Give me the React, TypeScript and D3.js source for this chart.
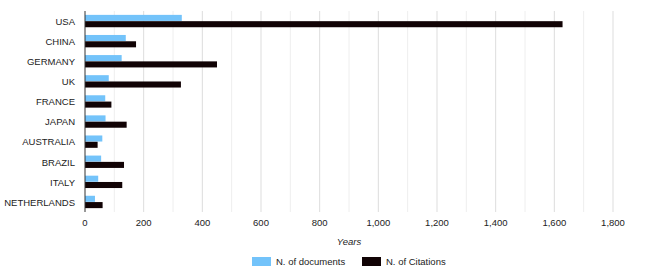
import * as d3 from 'd3'
import React from 'react'

const countries = ['USA', 'CHINA', 'GERMANY', 'UK', 'FRANCE', 'JAPAN', 'AUSTRALIA', 'BRAZIL', 'ITALY', 'NETHERLANDS']
const documents = [330, 139, 125, 81, 69, 70, 59, 55, 45, 34]
const citations = [1628, 174, 450, 327, 90, 142, 43, 133, 127, 60]
const seriesNames = ['N. of documents', 'N. of Citations']
const seriesColors = ['#73c3fa', '#110305']

export default function App() {
  const width = 658,
    height = 276
  const left = 85,
    right = 613,
    top = 11,
    bottom = 212

  const x = d3.scaleLinear().domain([0, 1800]).range([left, right])
  const y = d3.scaleBand().domain(countries).range([top, bottom]).paddingInner(0.36).paddingOuter(0.18)
  const inner = d3.scaleBand().domain(seriesNames).range([0, y.bandwidth()]).padding(0.04)

  const minor = d3.range(100, 1900, 200)
  const major = x.ticks(9)
  const fmt = d3.format(',')
  const font = "'Liberation Sans', Arial, sans-serif"

  return (
    <svg width={width} height={height} style={{ position: 'absolute', left: 0, top: 0 }} fontFamily={font}>
      {/* grid */}
      {minor.map(t => (
        <line key={'m' + t} x1={x(t)} x2={x(t)} y1={top} y2={bottom} stroke="#eeeeee" />
      ))}
      {major.filter(t => t > 0).map(t => (
        <line key={'g' + t} x1={x(t)} x2={x(t)} y1={top} y2={bottom} stroke="#dddddd" />
      ))}

      {/* bars */}
      {countries.map((c, i) => (
        <g key={c} transform={`translate(0,${y(c)})`}>
          <rect x={x(0)} y={inner(seriesNames[0])} width={x(documents[i]) - x(0)} height={inner.bandwidth()} fill={seriesColors[0]} />
          <rect x={x(0)} y={inner(seriesNames[1])} width={x(citations[i]) - x(0)} height={inner.bandwidth()} fill={seriesColors[1]} />
          <text x={left - 10} y={y.bandwidth() / 2 + 0.5} dy="0.35em" textAnchor="end" fontSize={9.5} fill="#222">
            {c}
          </text>
        </g>
      ))}

      {/* axis line */}
      <line x1={x(0)} x2={x(0)} y1={top} y2={bottom} stroke="#333" />

      {/* tick labels */}
      {major.map(t => (
        <text key={'t' + t} x={x(t)} y={226} textAnchor="middle" fontSize={9.5} fill="#222">
          {fmt(t)}
        </text>
      ))}
      <text x={349} y={245} textAnchor="middle" fontSize={9.5} fontStyle="italic" fill="#222">
        Years
      </text>

      {/* legend */}
      {seriesNames.map((s, i) => {
        const lx = [252, 362][i]
        return (
          <g key={s}>
            <rect x={lx} y={257} width={19} height={9} fill={seriesColors[i]} />
            <text x={lx + 24} y={265} fontSize={9.5} fill="#222">
              {s}
            </text>
          </g>
        )
      })}
    </svg>
  )
}
